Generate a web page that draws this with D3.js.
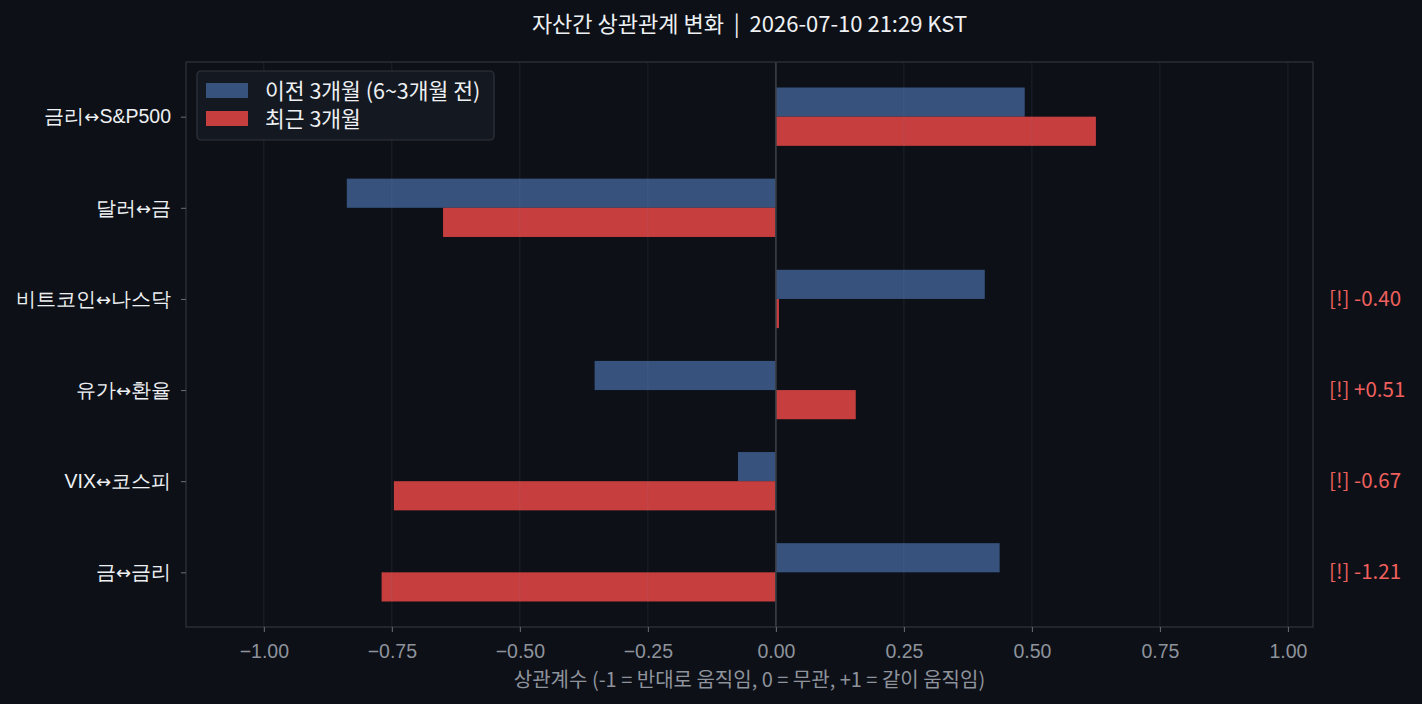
<!DOCTYPE html>
<html>
<head>
<meta charset="utf-8">
<script src="https://cdn.jsdelivr.net/npm/d3@7"></script>
<style>
  body { margin: 0; background: #0d1017; }
  svg { display: block; font-family: "Noto Sans CJK KR", "Noto Sans", sans-serif; }
</style>
</head>
<body>
<div id="chart"></div>
<script>
// Pair names (top to bottom)
const pairs = ["금리↔S&P500", "달러↔금", "비트코인↔나스닥", "유가↔환율", "VIX↔코스피", "금↔금리"];
// Correlation, previous 3 months (6~3 months ago)
const prevCorr = [0.486, -0.838, 0.408, -0.354, -0.074, 0.437];
// Correlation, recent 3 months
const recentCorr = [0.625, -0.650, 0.006, 0.156, -0.746, -0.770];
// Flagged changes shown on the right
const flags = [null, null, "[!] -0.40", "[!] +0.51", "[!] -0.67", "[!] -1.21"];
const xTicks = [-1.0, -0.75, -0.5, -0.25, 0, 0.25, 0.5, 0.75, 1.0];

const width = 1422, height = 704;
const margin = { top: 62, right: 109, bottom: 77, left: 186 };

const svg = d3.select("#chart").append("svg")
    .attr("width", width)
    .attr("height", height);

svg.append("rect").attr("width", width).attr("height", height).attr("fill", "#0d1017");

const x = d3.scaleLinear()
    .domain([-1.152, 1.049])
    .range([margin.left, width - margin.right]);

const y = d3.scaleLinear()
    .domain([-0.6, 5.6])
    .range([margin.top, height - margin.bottom]);

const barH = y(0.32) - y(0);

// bars
const prevColor = "#36527d", recentColor = "#c73e3e";
svg.append("g").selectAll("rect")
    .data(prevCorr)
    .join("rect")
    .attr("x", d => x(Math.min(0, d)))
    .attr("width", d => Math.abs(x(d) - x(0)))
    .attr("y", (d, i) => y(i) - barH)
    .attr("height", barH)
    .attr("fill", prevColor);

svg.append("g").selectAll("rect")
    .data(recentCorr)
    .join("rect")
    .attr("x", d => x(Math.min(0, d)))
    .attr("width", d => Math.abs(x(d) - x(0)))
    .attr("y", (d, i) => y(i))
    .attr("height", barH)
    .attr("fill", recentColor);

// vertical grid (above bars, faint)
svg.append("g").selectAll("line")
    .data(xTicks)
    .join("line")
    .attr("x1", d => x(d)).attr("x2", d => x(d))
    .attr("y1", margin.top).attr("y2", height - margin.bottom)
    .attr("stroke", "#8a8f99")
    .attr("stroke-opacity", 0.18)
    .attr("stroke-width", 0.8);

// zero line
svg.append("line")
    .attr("x1", x(0)).attr("x2", x(0))
    .attr("y1", margin.top).attr("y2", height - margin.bottom)
    .attr("stroke", "#3a3e46")
    .attr("stroke-width", 1.6);

// frame
svg.append("rect")
    .attr("x", margin.left).attr("y", margin.top)
    .attr("width", width - margin.right - margin.left)
    .attr("height", height - margin.bottom - margin.top)
    .attr("fill", "none")
    .attr("stroke", "#30343c")
    .attr("stroke-width", 1.2);

// x axis
const xAxis = svg.append("g")
    .attr("transform", `translate(0,${height - margin.bottom})`)
    .call(d3.axisBottom(x).tickValues(xTicks).tickSize(5).tickPadding(12)
        .tickFormat(d => d3.format(".2f")(d).replace("-", "\u2212")));
xAxis.select(".domain").remove();
xAxis.selectAll("line").attr("stroke", "#6b6f78");
xAxis.selectAll("text").attr("fill", "#8e939c").style("font-size", "19.5px");

// y axis
const yAxis = svg.append("g")
    .attr("transform", `translate(${margin.left},0)`)
    .call(d3.axisLeft(y).tickValues(d3.range(pairs.length)).tickSize(5).tickPadding(10)
        .tickFormat(i => pairs[i]));
yAxis.select(".domain").remove();
yAxis.selectAll("line").attr("stroke", "#6b6f78");
yAxis.selectAll("text")
    .attr("fill", "#eef0f3")
    .style("font-size", "19.5px")
    .each(function (i) {
        // wider arrow glyph between the two asset names
        const [a, b] = pairs[i].split("↔");
        const t = d3.select(this).text(null);
        t.append("tspan").text(a);
        t.append("tspan").style("font-family", "DejaVu Sans").style("font-size", "18px").text("↔");
        t.append("tspan").text(b);
    });

// flags
svg.append("g").selectAll("text")
    .data(flags)
    .join("text")
    .filter(d => d)
    .attr("x", 1329)
    .attr("y", d => y(flags.indexOf(d)))
    .attr("dy", "0.35em")
    .attr("fill", "#f0605e")
    .style("font-size", "20.5px")
    .text(d => d);

// title
svg.append("text")
    .attr("x", (margin.left + width - margin.right) / 2)
    .attr("y", 32)
    .attr("text-anchor", "middle")
    .attr("fill", "#eef0f3")
    .style("font-size", "22px")
    .style("white-space", "pre")
    .text("자산간 상관관계 변화  |  2026-07-10 21:29 KST");

// x label
svg.append("text")
    .attr("x", (margin.left + width - margin.right) / 2)
    .attr("y", 687)
    .attr("text-anchor", "middle")
    .attr("fill", "#8e939c")
    .style("font-size", "20px")
    .text("상관계수 (-1 = 반대로 움직임, 0 = 무관, +1 = 같이 움직임)");

// legend
const legend = svg.append("g").attr("transform", "translate(197,71)");
legend.append("rect")
    .attr("width", 297).attr("height", 69).attr("rx", 4)
    .attr("fill", "#151a22").attr("fill-opacity", 0.95)
    .attr("stroke", "#30343c").attr("stroke-width", 1.2);
const legendItems = [["이전 3개월 (6~3개월 전)", prevColor], ["최근 3개월", recentColor]];
legendItems.forEach(([label, color], i) => {
    legend.append("rect")
        .attr("x", 9).attr("y", 12 + i * 28)
        .attr("width", 42).attr("height", 15)
        .attr("fill", color);
    legend.append("text")
        .attr("x", 68).attr("y", 20 + i * 28)
        .attr("dy", "0.35em")
        .attr("fill", "#eef0f3")
        .style("font-size", "21.5px")
        .text(label);
});
</script>
</body>
</html>
